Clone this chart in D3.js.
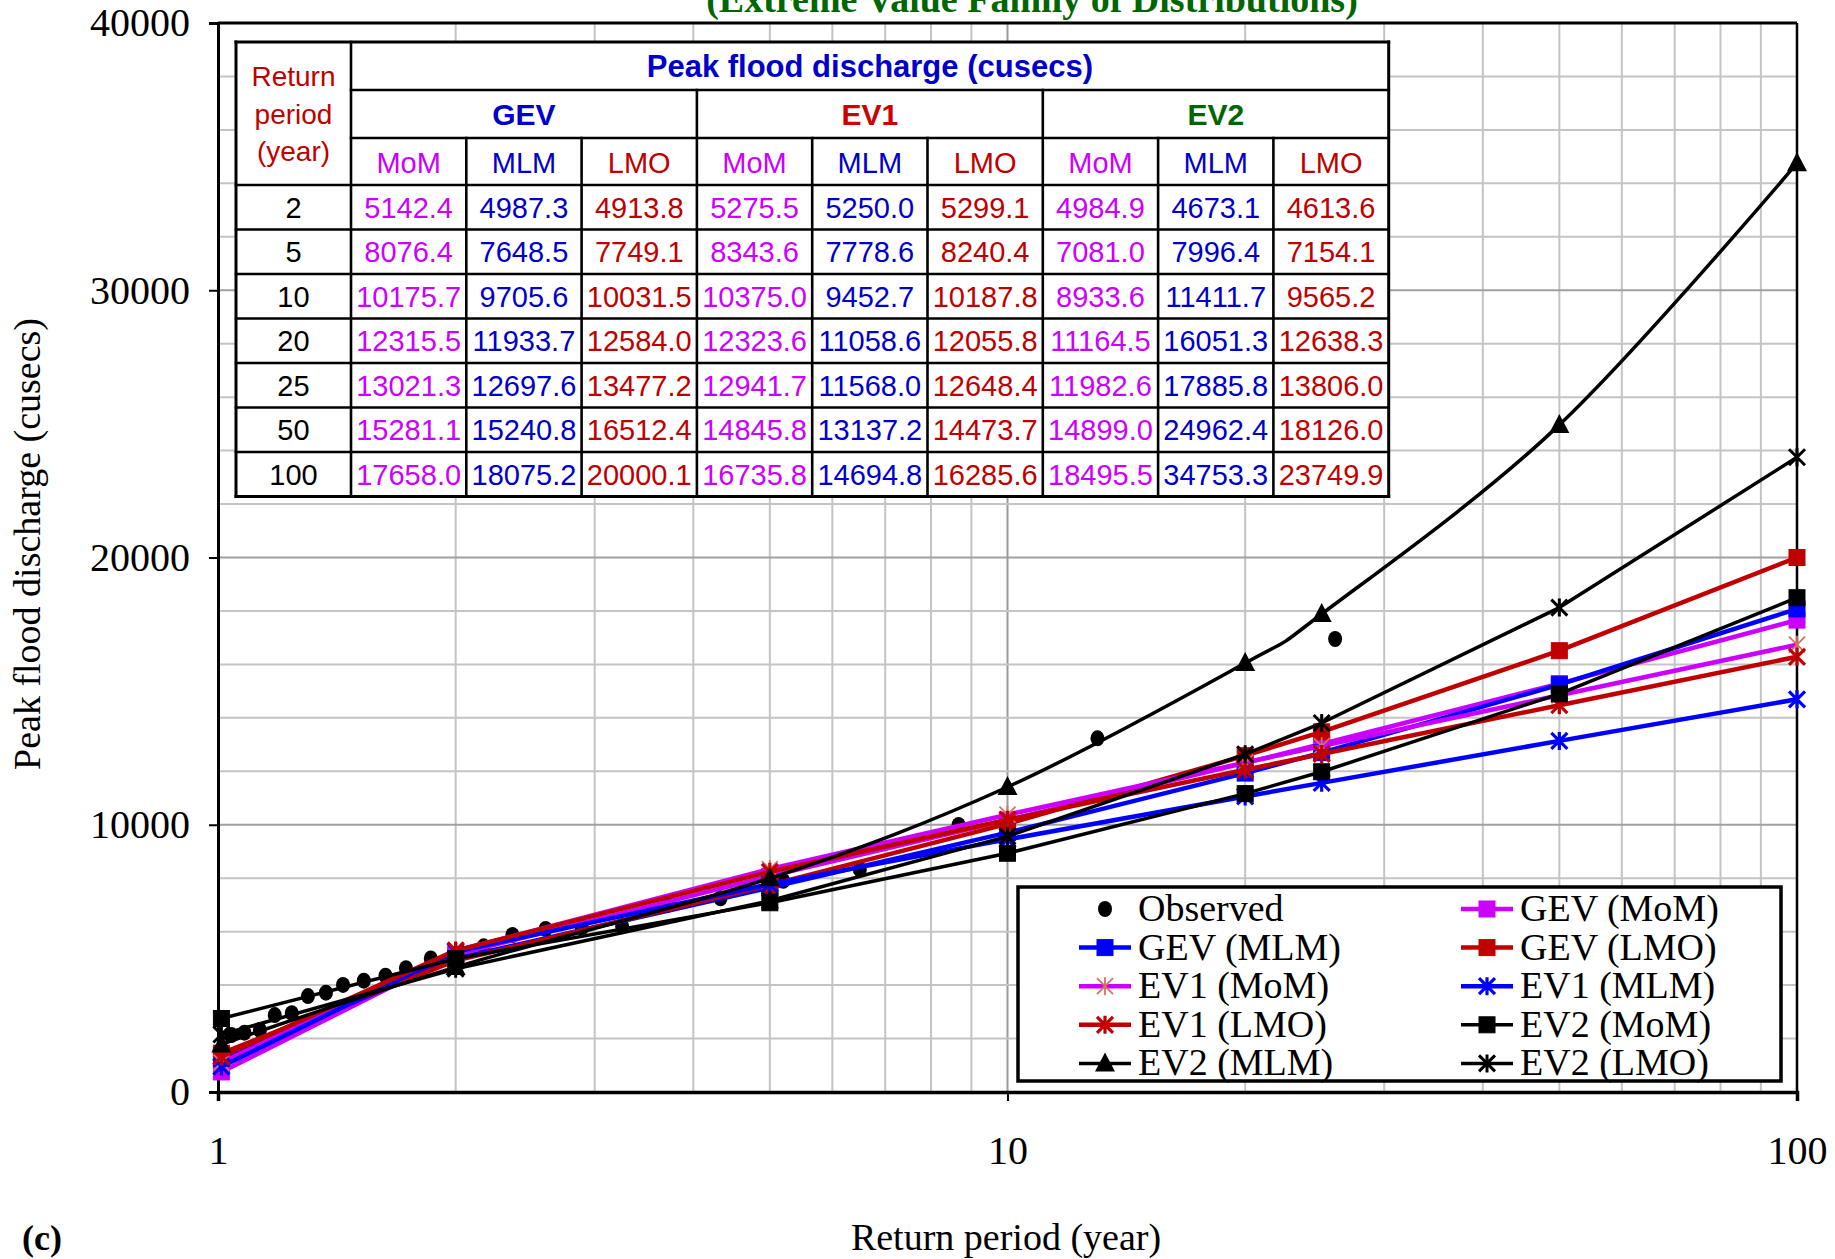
<!DOCTYPE html>
<html>
<head>
<meta charset="utf-8">
<script src="https://cdn.jsdelivr.net/npm/d3@7"></script>
<style>
  body { margin: 0; background: #fff; }
  svg { display: block; }
</style>
</head>
<body>
<svg id="chart" width="1835" height="1259"></svg>
<script>
// Return periods (years) at which each fitted distribution is evaluated
const returnPeriods = [1.01, 2, 5, 10, 20, 25, 50, 100];

// Peak flood discharge (cusecs) for each distribution / estimation method
const gevMoM = [750, 5142.4, 8076.4, 10175.7, 12315.5, 13021.3, 15281.1, 17658.0];
const gevMLM = [1250, 4987.3, 7648.5, 9705.6, 11933.7, 12697.6, 15240.8, 18075.2];
const gevLMO = [1450, 4913.8, 7749.1, 10031.5, 12584.0, 13477.2, 16512.4, 20000.1];
const ev1MoM = [1100, 5275.5, 8343.6, 10375.0, 12323.6, 12941.7, 14845.8, 16735.8];
const ev1MLM = [950, 5250.0, 7778.6, 9452.7, 11058.6, 11568.0, 13137.2, 14694.8];
const ev1LMO = [1320, 5299.1, 8240.4, 10187.8, 12055.8, 12648.4, 14473.7, 16285.6];
const ev2MoM = [2750, 4984.9, 7081.0, 8933.6, 11164.5, 11982.6, 14899.0, 18495.5];
const ev2MLM = [1780, 4673.1, 7996.4, 11411.7, 16051.3, 17885.8, 24962.4, 34753.3];
const ev2LMO = [2150, 4613.6, 7154.1, 9565.2, 12638.3, 13806.0, 18126.0, 23749.9];

// Observed annual peaks at their plotting-position return periods
const obsReturnPeriod = [26, 13, 8.67, 6.5, 5.2, 4.33, 3.71, 3.25, 2.89, 2.6, 2.36, 2.17, 2.0,
                         1.86, 1.73, 1.63, 1.53, 1.44, 1.37, 1.3, 1.24, 1.18, 1.13, 1.08, 1.04];
const obsDischarge = [16950, 13235, 9990, 8330, 7900, 7250, 7000, 6200, 6150, 6100, 5875, 5450, 5150,
                      5000, 4630, 4350, 4165, 4005, 3715, 3590, 2950, 2880, 2320, 2220, 2130];

// Axis ticks
const yTicks = [0, 10000, 20000, 30000, 40000];
const xTicks = [1, 10, 100];

// Table labels
const tableReturnPeriods = [2, 5, 10, 20, 25, 50, 100];
const familyNames = ["GEV", "EV1", "EV2"];
const methodNames = ["MoM", "MLM", "LMO"];

const MAGENTA = "#CC00FF", BLUE = "#0000FF", RED = "#C00000", BLACK = "#000000";
const serif = "'Liberation Serif','Times New Roman',Times,serif";
const sans = "'Liberation Sans',Arial,Helvetica,sans-serif";

const series = [
  { name: "GEV (MoM)", values: gevMoM, color: MAGENTA, marker: "square", mcolor: MAGENTA, width: 4.5 },
  { name: "GEV (MLM)", values: gevMLM, color: BLUE, marker: "square", mcolor: BLUE, width: 4.5 },
  { name: "GEV (LMO)", values: gevLMO, color: RED, marker: "square", mcolor: RED, width: 4.5 },
  { name: "EV1 (MoM)", values: ev1MoM, color: MAGENTA, marker: "star", mcolor: "#D9705F", mwidth: 1.8, width: 4.5 },
  { name: "EV1 (MLM)", values: ev1MLM, color: BLUE, marker: "star", mcolor: BLUE, mwidth: 3.2, width: 4.5 },
  { name: "EV1 (LMO)", values: ev1LMO, color: RED, marker: "star", mcolor: RED, mwidth: 3.2, width: 4.5 },
  { name: "EV2 (MoM)", values: ev2MoM, color: BLACK, marker: "square", mcolor: BLACK, width: 3.5 },
  { name: "EV2 (MLM)", values: ev2MLM, color: BLACK, marker: "triangle", mcolor: BLACK, width: 3.5, smooth: true },
  { name: "EV2 (LMO)", values: ev2LMO, color: BLACK, marker: "star", mcolor: BLACK, mwidth: 3, width: 3.5 }
];

const svg = d3.select("#chart");
const plot = { left: 218, right: 1797, top: 23, bottom: 1092 };

const x = d3.scaleLog().domain([1, 100]).range([plot.left, plot.right]);
const y = d3.scaleLinear().domain([0, 40000]).range([plot.bottom, plot.top]);

// ---- grid ----
const grid = svg.append("g");
const minorX = [2, 3, 4, 5, 6, 7, 8, 9, 20, 30, 40, 50, 60, 70, 80, 90];
grid.selectAll(".vx").data(minorX).join("line")
  .attr("x1", d => x(d)).attr("x2", d => x(d))
  .attr("y1", plot.top).attr("y2", plot.bottom)
  .attr("stroke", "#C4C4C4").attr("stroke-width", 2);
grid.append("line")
  .attr("x1", x(10)).attr("x2", x(10)).attr("y1", plot.top).attr("y2", plot.bottom)
  .attr("stroke", "#9A9A9A").attr("stroke-width", 2);
const hLines = d3.range(2000, 40000, 2000);
grid.selectAll(".hy").data(hLines).join("line")
  .attr("x1", plot.left).attr("x2", plot.right)
  .attr("y1", d => y(d)).attr("y2", d => y(d))
  .attr("stroke", d => d % 10000 === 0 ? "#A0A0A0" : "#C4C4C4")
  .attr("stroke-width", 2);

// plot frame
svg.append("line").attr("x1", plot.left).attr("x2", plot.right).attr("y1", plot.top).attr("y2", plot.top)
  .attr("stroke", "#000").attr("stroke-width", 3);
svg.append("line").attr("x1", plot.right).attr("x2", plot.right).attr("y1", plot.top).attr("y2", plot.bottom)
  .attr("stroke", "#000").attr("stroke-width", 2.5);

// ---- axes ----
const yAxis = svg.append("g").attr("transform", `translate(${plot.left},0)`)
  .call(d3.axisLeft(y).tickValues(yTicks).tickFormat(d3.format("d")).tickSize(9).tickPadding(19));
yAxis.select(".domain").attr("stroke", "#000").attr("stroke-width", 3);
yAxis.selectAll(".tick line").attr("stroke", "#000").attr("stroke-width", 2);
yAxis.selectAll(".tick text").attr("font-family", serif).attr("font-size", 40).attr("fill", "#000");

const xAxis = svg.append("g").attr("transform", `translate(0,${plot.bottom})`)
  .call(d3.axisBottom(x).tickValues(xTicks).tickFormat(d3.format("d")).tickSize(9).tickPadding(35));
xAxis.select(".domain").attr("stroke", "#000").attr("stroke-width", 3.5);
xAxis.selectAll(".tick line").attr("stroke", "#000").attr("stroke-width", 2);
xAxis.selectAll(".tick text").attr("font-family", serif).attr("font-size", 40).attr("fill", "#000");

// ---- markers ----
function drawMarker(g, type, cx, cy, s) {
  if (type === "square") {
    g.append("rect").attr("x", cx - 8).attr("y", cy - 8).attr("width", 16).attr("height", 16)
      .attr("fill", s.mcolor).attr("stroke", s.mcolor).attr("stroke-width", 1);
  } else if (type === "triangle") {
    g.append("path").attr("d", `M${cx},${cy - 11}L${cx + 10},${cy + 8}L${cx - 10},${cy + 8}Z`)
      .attr("fill", s.mcolor);
  } else if (type === "star") {
    const r = 8;
    g.append("path")
      .attr("d", `M${cx - r},${cy - r}L${cx + r},${cy + r}M${cx - r},${cy + r}L${cx + r},${cy - r}M${cx},${cy - r - 1}L${cx},${cy + r + 1}`)
      .attr("stroke", s.mcolor).attr("stroke-width", s.mwidth).attr("fill", "none");
  } else if (type === "dot") {
    g.append("ellipse").attr("cx", cx).attr("cy", cy).attr("rx", 7).attr("ry", 8).attr("fill", "#000");
  }
}

// observed points (drawn first, beneath the fitted curves)
const obsG = svg.append("g");
obsReturnPeriod.forEach((t, i) => drawMarker(obsG, "dot", x(t), y(obsDischarge[i]), { mcolor: "#000" }));

// fitted series
series.forEach(s => {
  const g = svg.append("g");
  const pts = returnPeriods.map((t, i) => [x(t), y(s.values[i])]);
  const line = d3.line().curve(s.smooth ? d3.curveCatmullRom.alpha(0) : d3.curveLinear);
  g.append("path").attr("d", line(pts)).attr("fill", "none")
    .attr("stroke", s.color).attr("stroke-width", s.width).attr("stroke-linejoin", "round");
  pts.forEach(p => drawMarker(g, s.marker, p[0], p[1], s));
});

// ---- data table ----
const tbl = svg.append("g");
const tLeft = 236, firstW = 115, colW = 115.3, tTop = 42;
const headH = [48, 48, 47], rowH = 44.5;
const nCols = 9;
const tRight = tLeft + firstW + nCols * colW;
const headBottom = tTop + d3.sum(headH);
const tBottom = headBottom + tableReturnPeriods.length * rowH;
const colX = i => tLeft + firstW + i * colW;

tbl.append("rect").attr("x", tLeft).attr("y", tTop).attr("width", tRight - tLeft).attr("height", tBottom - tTop)
  .attr("fill", "#fff");

const methodColor = { MoM: "#CC00FF", MLM: "#0000CC", LMO: "#C00000" };
const familyColor = { GEV: "#0000CC", EV1: "#CC0000", EV2: "#006600" };

// header texts
tbl.append("text").attr("x", (colX(0) + tRight) / 2).attr("y", tTop + headH[0] / 2 + 11)
  .attr("text-anchor", "middle").attr("font-family", sans).attr("font-weight", "bold")
  .attr("font-size", 31).attr("fill", "#0000CC").text("Peak flood discharge (cusecs)");

["Return", "period", "(year)"].forEach((w, i) => {
  tbl.append("text").attr("x", tLeft + firstW / 2).attr("y", 86 + i * 37.5)
    .attr("text-anchor", "middle").attr("font-family", sans).attr("font-size", 28)
    .attr("fill", "#C00000").text(w);
});

familyNames.forEach((f, i) => {
  tbl.append("text").attr("x", (colX(i * 3) + colX(i * 3 + 3)) / 2).attr("y", tTop + headH[0] + headH[1] / 2 + 11)
    .attr("text-anchor", "middle").attr("font-family", sans).attr("font-weight", "bold")
    .attr("font-size", 30).attr("fill", familyColor[f]).text(f);
  methodNames.forEach((m, j) => {
    tbl.append("text").attr("x", colX(i * 3 + j) + colW / 2)
      .attr("y", tTop + headH[0] + headH[1] + headH[2] / 2 + 11)
      .attr("text-anchor", "middle").attr("font-family", sans).attr("font-size", 29)
      .attr("fill", methodColor[m]).text(m);
  });
});

// body rows (values taken from the same series arrays as the plotted marks)
const fmt = d3.format(".1f");
tableReturnPeriods.forEach((t, r) => {
  const cy = headBottom + r * rowH + rowH / 2 + 10.5;
  tbl.append("text").attr("x", tLeft + firstW / 2).attr("y", cy).attr("text-anchor", "middle")
    .attr("font-family", sans).attr("font-size", 29).attr("fill", "#000").text(t);
  const idx = returnPeriods.indexOf(t);
  series.forEach((s, c) => {
    tbl.append("text").attr("x", colX(c) + colW / 2).attr("y", cy).attr("text-anchor", "middle")
      .attr("font-family", sans).attr("font-size", 29)
      .attr("fill", methodColor[methodNames[c % 3]]).text(fmt(s.values[idx]));
  });
});

// table rules
const rule = (x1, y1, x2, y2, w) => tbl.append("line").attr("x1", x1).attr("y1", y1).attr("x2", x2).attr("y2", y2)
  .attr("stroke", "#000").attr("stroke-width", w || 2.6).attr("stroke-linecap", "square");
rule(tLeft, tTop, tRight, tTop, 3);
rule(tLeft, tBottom, tRight, tBottom, 3);
rule(tLeft, tTop, tLeft, tBottom, 3);
rule(tRight, tTop, tRight, tBottom, 3);
rule(colX(0), tTop, colX(0), tBottom);
rule(colX(0), tTop + headH[0], tRight, tTop + headH[0]);
rule(colX(0), tTop + headH[0] + headH[1], tRight, tTop + headH[0] + headH[1]);
rule(colX(3), tTop + headH[0], colX(3), tBottom);
rule(colX(6), tTop + headH[0], colX(6), tBottom);
[1, 2, 4, 5, 7, 8].forEach(c => rule(colX(c), tTop + headH[0] + headH[1], colX(c), tBottom));
for (let r = 0; r < tableReturnPeriods.length; r++) rule(tLeft, headBottom + r * rowH, tRight, headBottom + r * rowH);

// ---- legend ----
const lg = svg.append("g");
const L = { x: 1018, y: 887, w: 763, h: 194 };
lg.append("rect").attr("x", L.x).attr("y", L.y).attr("width", L.w).attr("height", L.h)
  .attr("fill", "#fff").attr("stroke", "#000").attr("stroke-width", 3.5);
const legendItems = [{ name: "Observed", marker: "dot", mcolor: "#000" }].concat(series);
const colStarts = [1079, 1461];
legendItems.forEach((s, i) => {
  const col = i % 2, row = Math.floor(i / 2);
  const cy = 909 + row * 38.6;
  const x0 = colStarts[col], x1 = x0 + 52, cx = (x0 + x1) / 2;
  const g = lg.append("g");
  if (s.marker !== "dot") {
    g.append("line").attr("x1", x0).attr("x2", x1).attr("y1", cy).attr("y2", cy)
      .attr("stroke", s.color).attr("stroke-width", s.width);
  }
  drawMarker(g, s.marker, cx, cy, s);
  g.append("text").attr("x", x1 + 7).attr("y", cy + 12).attr("font-family", serif)
    .attr("font-size", 38).attr("fill", "#000").text(s.name);
});

// ---- titles ----
svg.append("text").attr("x", 1032).attr("y", 12).attr("text-anchor", "middle")
  .attr("font-family", serif).attr("font-weight", "bold").attr("font-size", 38)
  .attr("fill", "#006600").text("(Extreme Value Family of Distributions)");

svg.append("text").attr("transform", "translate(40,544) rotate(-90)").attr("text-anchor", "middle")
  .attr("font-family", serif).attr("font-size", 38).attr("fill", "#000")
  .text("Peak flood discharge (cusecs)");

svg.append("text").attr("x", 1006).attr("y", 1250).attr("text-anchor", "middle")
  .attr("font-family", serif).attr("font-size", 38).attr("fill", "#000")
  .text("Return period (year)");

svg.append("text").attr("x", 22).attr("y", 1250)
  .attr("font-family", serif).attr("font-weight", "bold").attr("font-size", 36).attr("fill", "#000")
  .text("(c)");
</script>
</body>
</html>
